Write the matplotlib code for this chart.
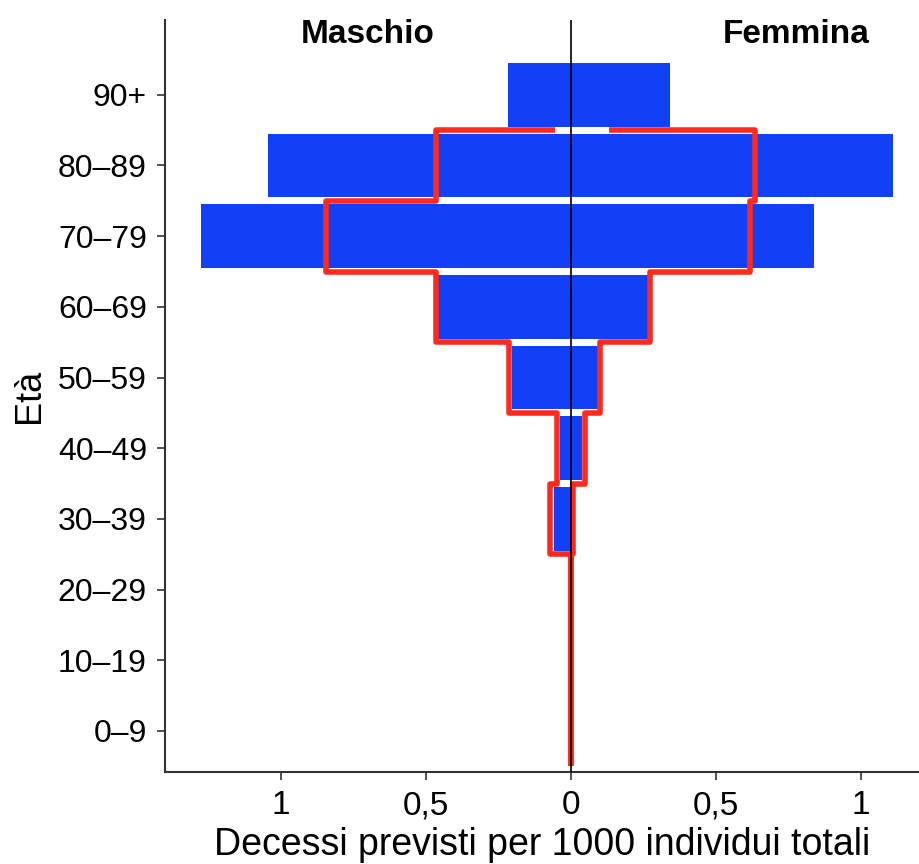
import matplotlib
matplotlib.use("Agg")
import matplotlib.pyplot as plt
import numpy as np

plt.rcParams['font.family'] = ['Liberation Sans', 'DejaVu Sans']

ages = ["0–9", "10–19", "20–29", "30–39", "40–49", "50–59", "60–69", "70–79", "80–89", "90+"]
# observed (blue bars)
male_obs = [0.0, 0.0, 0.001, 0.058, 0.038, 0.205, 0.460, 1.276, 1.045, 0.217]
female_obs = [0.0, 0.0, 0.001, 0.004, 0.038, 0.092, 0.265, 0.838, 1.110, 0.342]
# predicted (red step outline)
male_pred = [0.0, 0.0, 0.0, 0.072, 0.048, 0.212, 0.466, 0.845, 0.466, 0.055]
female_pred = [0.0, 0.0, 0.0, 0.006, 0.048, 0.100, 0.274, 0.617, 0.634, 0.130]
xticks = [-1, -0.5, 0, 0.5, 1]
xticklabels = ["1", "0,5", "0", "0,5", "1"]

BLUE = "#1240F7"
RED = "#FF2A1C"

fig = plt.figure(figsize=(9.19, 8.64), dpi=100)
ax = fig.add_axes([0.1795, 0.1065, 0.8205, 0.8705])

y = np.arange(len(ages))
ax.barh(y, -np.array(male_obs), height=0.9, color=BLUE, zorder=2)
ax.barh(y, female_obs, height=0.9, color=BLUE, zorder=2)

def step_path(vals, sign):
    xs, ys = [], []
    n = len(vals)
    for i in range(n - 1):
        xs += [sign * vals[i], sign * vals[i]]
        ys += [i - 0.5, i + 0.5]
    xs.append(sign * vals[-1])
    ys.append(n - 1 - 0.5)
    return xs, ys

for vals, s in ((male_pred, -1), (female_pred, 1)):
    xs, ys = step_path(vals, s)
    ax.plot(xs, ys, color=RED, lw=4.0, solid_joinstyle='round',
            solid_capstyle='butt', zorder=3)

ax.axvline(0, color="black", lw=1.2, zorder=4)

ax.set_xlim(-1.4, 1.2)
ax.set_ylim(-0.58, 10.06)
ax.set_yticks(y)
ax.set_yticklabels(ages, fontsize=23)
ax.set_xticks(xticks)
ax.set_xticklabels(xticklabels, fontsize=24)
ax.set_xlabel("Decessi previsti per 1000 individui totali", fontsize=27, labelpad=4)
ax.set_ylabel("Età", fontsize=26, labelpad=8)

for sp in ("top", "right"):
    ax.spines[sp].set_visible(False)
for sp in ("left", "bottom"):
    ax.spines[sp].set_color("#333333")
    ax.spines[sp].set_linewidth(1.5)
ax.tick_params(axis="both", length=6, width=1.2, color="#333333", pad=7)

ax.text(-0.7, 9.85, "Maschio", fontsize=24, fontweight="bold", ha="center", va="center")
ax.text(0.775, 9.85, "Femmina", fontsize=24, fontweight="bold", ha="center", va="center")

fig.savefig("out.png", dpi=100)
